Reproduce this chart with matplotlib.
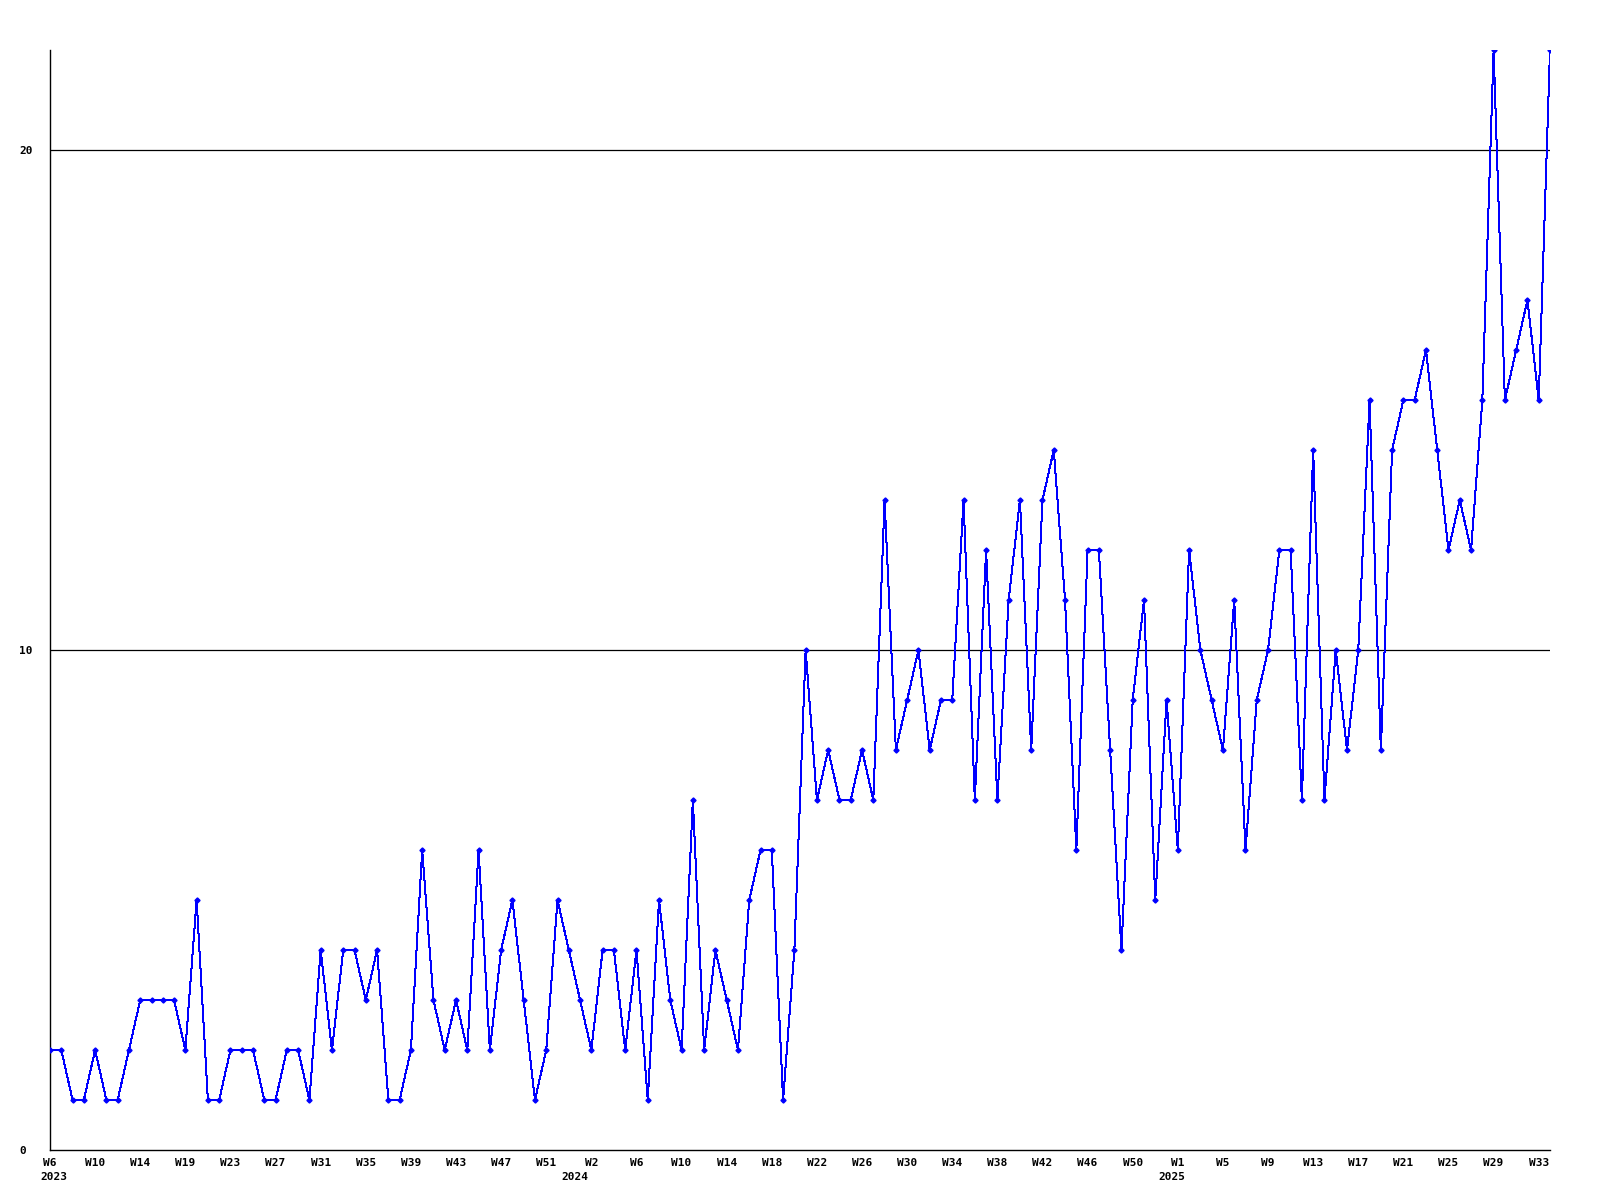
import matplotlib
matplotlib.use('Agg')
import matplotlib.pyplot as plt
import matplotlib.transforms as mtransforms

# weekly counts, 2023 W6 .. 2025 W34
counts = [
    2, 2, 1, 1, 2, 1, 1, 2, 3, 3, 3, 3, 2, 5,
    1, 1, 2, 2, 2, 1, 1, 2, 2, 1, 4, 2, 4, 4,
    3, 4, 1, 1, 2, 6, 3, 2, 3, 2, 6, 2, 4, 5,
    3, 1, 2, 5, 4, 3, 2, 4, 4, 2, 4, 1, 5, 3,
    2, 7, 2, 4, 3, 2, 5, 6, 6, 1, 4, 10, 7, 8,
    7, 7, 8, 7, 13, 8, 9, 10, 8, 9, 9, 13, 7, 12,
    7, 11, 13, 8, 13, 14, 11, 6, 12, 12, 8, 4, 9, 11,
    5, 9, 6, 12, 10, 9, 8, 11, 6, 9, 10, 12, 12, 7,
    14, 7, 10, 8, 10, 15, 8, 14, 15, 15, 16, 14, 12, 13,
    12, 15, 22, 15, 16, 17, 15, 22,
]

# week numbers per year (2023 W15 has no entry)
weeks_2023 = list(range(6, 15)) + list(range(16, 54))
weeks_2024 = list(range(1, 54))
weeks_2025 = list(range(1, 35))

years = ['2023'] * len(weeks_2023) + ['2024'] * len(weeks_2024) + ['2025'] * len(weeks_2025)
weeks = weeks_2023 + weeks_2024 + weeks_2025

yticks = [0, 10, 20]

x = list(range(len(counts)))

fig = plt.figure(figsize=(16, 12), dpi=100)
ax = fig.add_axes([50 / 1600, 50 / 1200, 1500 / 1600, 1100 / 1200])

ax.plot(x, counts, color='#0000ff', linewidth=0.72, marker='D', markersize=2.6,
        markerfacecolor='#0000ff', markeredgecolor='#0000ff', antialiased=False,
        zorder=3)

ax.set_xlim(0, len(counts) - 1)
ax.set_ylim(0, 22)

for s in ['top', 'right']:
    ax.spines[s].set_visible(False)
for s in ['left', 'bottom']:
    ax.spines[s].set_color('black')
    ax.spines[s].set_linewidth(1.0)

font = dict(family='DejaVu Sans Mono', weight='bold', size=8)

ax.set_yticks(yticks)
ax.set_yticklabels([str(v) for v in yticks], fontdict=font, ha='left')
for v in yticks[1:]:
    ax.axhline(v, color='black', linewidth=0.9, zorder=1)

tick_idx = x[::4]
ax.set_xticks(tick_idx)
ax.set_xticklabels(['W{}'.format(weeks[i]) for i in tick_idx], fontdict=font)
ax.tick_params(axis='both', length=0)
ax.tick_params(axis='x', pad=6)
ax.tick_params(axis='y', pad=22)

# year labels where each year starts
trans = mtransforms.blended_transform_factory(ax.transData, ax.transAxes)
for i, yr in enumerate(years):
    if i == 0 or years[i - 1] != yr:
        ax.text(max(i - 0.5, 0.3), -0.025, yr, transform=trans, ha='center', va='center', **font)

fig.savefig('out.png', dpi=100, facecolor='white')
